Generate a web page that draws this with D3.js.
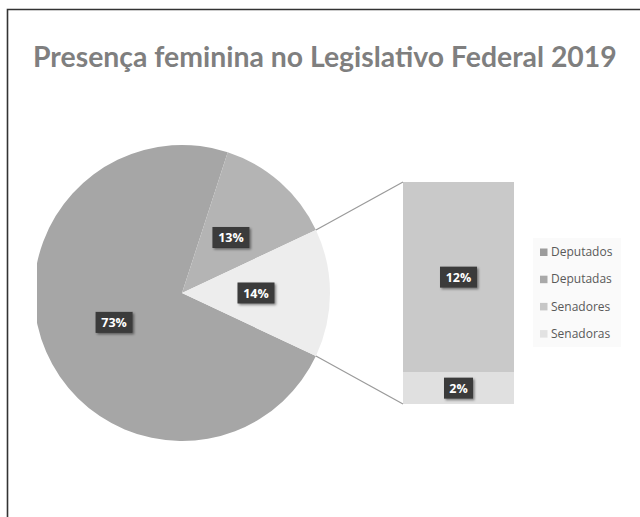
<!DOCTYPE html>
<html>
<head>
<meta charset="utf-8">
<script src="https://cdn.jsdelivr.net/npm/d3@7"></script>
<style>
  body { margin: 0; background: #fff; }
  svg { display: block; }
</style>
</head>
<body>
<div id="chart"></div>
<script>
// Data
const categories = ["Deputados", "Deputadas", "Senadores", "Senadoras"];
const values = [73, 13, 12, 2];
const colors = ["#a6a6a6", "#b4b4b4", "#c9c9c9", "#e0e0e0"];
const legendColors = ["#9c9c9c", "#a9a9a9", "#c6c6c6", "#e2e2e2"];
const otherColor = "#ededed";
const title = "Presença feminina no Legislativo Federal 2019";

const width = 640, height = 517;

const svg = d3.select("#chart").append("svg")
    .attr("width", width)
    .attr("height", height);

// drop shadow for the label boxes
const defs = svg.append("defs");
const shadow = defs.append("filter").attr("id", "shadow")
    .attr("x", "-30%").attr("y", "-30%").attr("width", "170%").attr("height", "170%");
shadow.append("feDropShadow")
    .attr("dx", 1.5).attr("dy", 1.5).attr("stdDeviation", 1.2)
    .attr("flood-color", "#000").attr("flood-opacity", 0.45);

defs.append("clipPath").attr("id", "plotClip")
  .append("rect").attr("x", 37).attr("y", 0).attr("width", 600).attr("height", height);

// Frame (top and left border)
svg.append("path")
    .attr("d", `M7.5,${height} V9.5 H${width}`)
    .attr("fill", "none")
    .attr("stroke", "#333")
    .attr("stroke-width", 1.6);

// Title, fitted to the width it takes in the picture
const titleText = svg.append("text")
    .attr("x", 33)
    .attr("y", 67)
    .style("font-family", "Lato, sans-serif")
    .style("font-weight", 700)
    .style("font-size", "25px")
    .attr("fill", "#7f7f7f")
    .text(title);
const tw = titleText.node().getComputedTextLength();
titleText.style("font-size", (25 * 584 / tw).toFixed(2) + "px");

// Pie (first two categories + the "other" slice = senate)
const cx = 182, cy = 293, r = 148;
const pieValues = [values[0], values[1], values[2] + values[3]];
const pieColors = [colors[0], colors[1], otherColor];
const total = d3.sum(pieValues);
const otherShare = pieValues[2] / total;
// place the "other" slice centred at 3 o'clock
const a0 = Math.PI / 2 + otherShare * Math.PI;

const pie = d3.pie().sort(null).startAngle(a0).endAngle(a0 + 2 * Math.PI);
const arcs = pie(pieValues);
const arc = d3.arc().innerRadius(0).outerRadius(r);

const pieG = svg.append("g")
    .attr("clip-path", "url(#plotClip)")
  .append("g")
    .attr("transform", `translate(${cx},${cy})`);

pieG.selectAll("path")
  .data(arcs)
  .join("path")
    .attr("d", arc)
    .attr("fill", (d, i) => pieColors[i]);

// Bar of the "other" slice
const barX = 403, barW = 111;
const y = d3.scaleLinear().domain([0, values[2] + values[3]]).range([404, 182]);
const stack = [
  { key: categories[3], y0: 0, y1: values[3], color: colors[3], v: values[3] },
  { key: categories[2], y0: values[3], y1: values[3] + values[2], color: colors[2], v: values[2] }
];

svg.selectAll(".bar")
  .data(stack)
  .join("rect")
    .attr("class", "bar")
    .attr("x", barX)
    .attr("width", barW)
    .attr("y", d => y(d.y1))
    .attr("height", d => y(d.y0) - y(d.y1))
    .attr("fill", d => d.color);

// Connector lines from the slice edges to the bar
const o = arcs[2];
const edge = a => [cx + r * Math.sin(a), cy - r * Math.cos(a)];
const p1 = edge(o.startAngle), p2 = edge(o.endAngle);
svg.append("line")
    .attr("x1", p1[0]).attr("y1", p1[1])
    .attr("x2", barX).attr("y2", y(values[2] + values[3]))
    .attr("stroke", "#9a9a9a").attr("stroke-width", 1.2);
svg.append("line")
    .attr("x1", p2[0]).attr("y1", p2[1])
    .attr("x2", barX).attr("y2", y(0))
    .attr("stroke", "#9a9a9a").attr("stroke-width", 1.2);

// Data labels
function addLabel(x, yy, txt) {
  const g = svg.append("g").attr("transform", `translate(${x},${yy})`);
  const w = txt.length > 2 ? 37 : 29;
  g.append("rect")
      .attr("x", -w / 2).attr("y", -10.5)
      .attr("width", w).attr("height", 21)
      .attr("fill", "#3a3a3a")
      .attr("filter", "url(#shadow)");
  g.append("text")
      .attr("text-anchor", "middle")
      .attr("dy", "0.36em")
      .style("font-family", "'Open Sans', sans-serif")
      .style("font-weight", 700)
      .style("font-size", "12.5px")
      .attr("fill", "#fff")
      .text(txt);
}

arcs.forEach((d, i) => {
  const c = arc.centroid(d);
  addLabel(cx + c[0], cy + c[1], pieValues[i] + "%");
});
stack.forEach(d => {
  addLabel(barX + barW / 2, (y(d.y0) + y(d.y1)) / 2, d.v + "%");
});

// Legend
svg.append("rect")
    .attr("x", 533).attr("y", 238)
    .attr("width", 88).attr("height", 109)
    .attr("fill", "#fafafa");

const legend = svg.selectAll(".legend")
  .data(categories)
  .join("g")
    .attr("class", "legend")
    .attr("transform", (d, i) => `translate(540,${252 + i * 27.2})`);

legend.append("rect")
    .attr("x", 0).attr("y", -3.5)
    .attr("width", 7.5).attr("height", 7.5)
    .attr("fill", (d, i) => legendColors[i]);

legend.append("text")
    .attr("x", 11)
    .attr("dy", "0.35em")
    .style("font-family", "'Open Sans', sans-serif")
    .style("font-size", "12px")
    .attr("fill", "#595959")
    .text(d => d);
</script>
</body>
</html>
